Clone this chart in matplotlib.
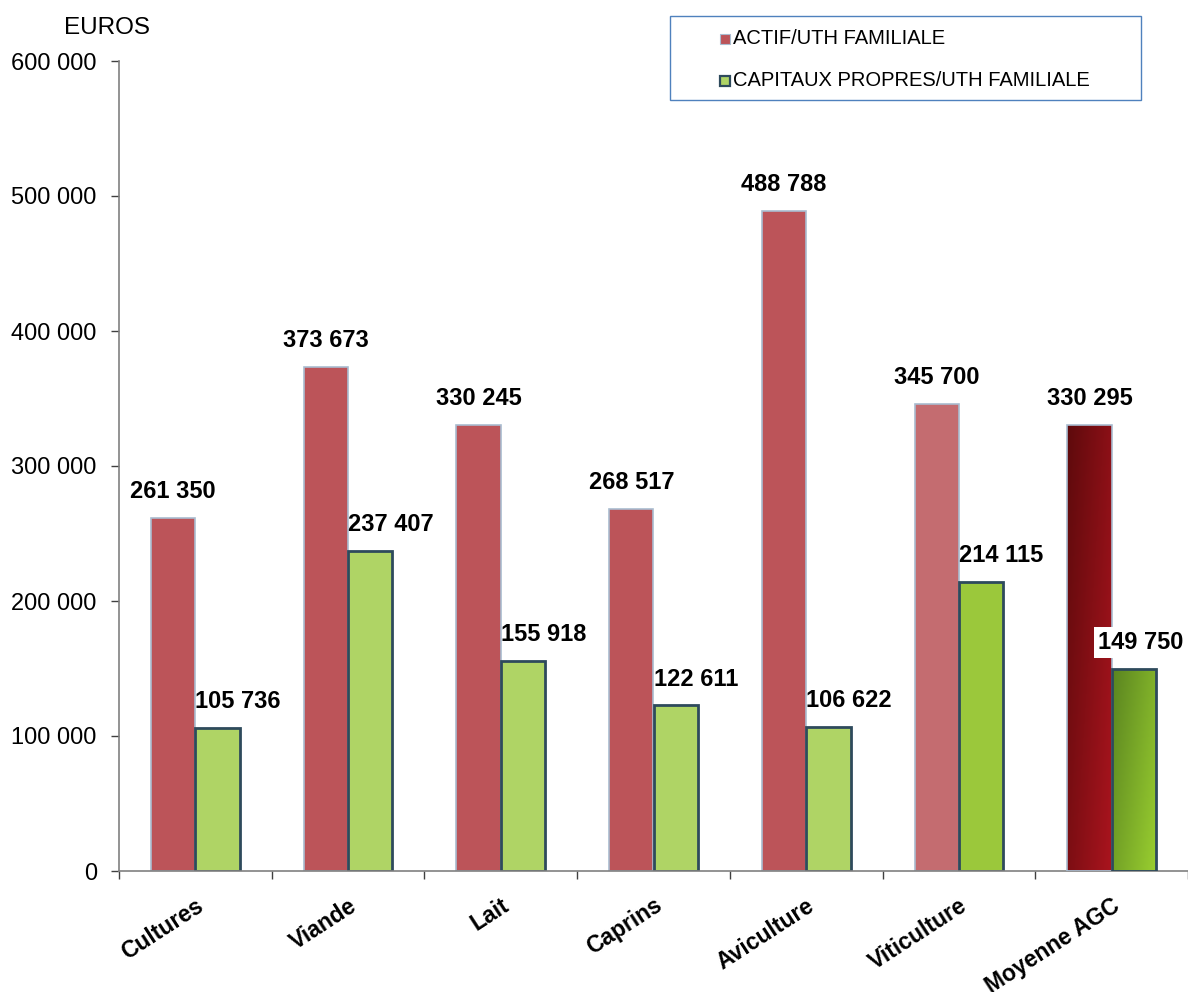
import numpy as np
import matplotlib.pyplot as plt
from matplotlib.patches import Rectangle
from matplotlib.colors import LinearSegmentedColormap

# data
categories = ['Cultures', 'Viande', 'Lait', 'Caprins', 'Aviculture', 'Viticulture', 'Moyenne AGC']
actif = [261350, 373673, 330245, 268517, 488788, 345700, 330295]
capitaux = [105736, 237407, 155918, 122611, 106622, 214115, 149750]
series_names = ['ACTIF/UTH FAMILIALE', 'CAPITAUX PROPRES/UTH FAMILIALE']

red_colors = ['#BC5459'] * 5 + ['#C46C70', '#8E0E14']
green_colors = ['#AFD465'] * 5 + ['#9BC83B', '#7BAA2A']

plt.rcParams['font.family'] = ['Liberation Sans', 'DejaVu Sans']

def fmt(v):
    return f'{v:,}'.replace(',', ' ')

fig = plt.figure(figsize=(11.88, 9.92), dpi=100)
ax = fig.add_axes([119 / 1188, 1 - 871 / 992, 1 - 119 / 1188, (871 - 61) / 992])

x = np.arange(len(categories))
w = 0.29
red_bars = ax.bar(x - w / 2, actif, w, color=red_colors, edgecolor='#A9BCD0', linewidth=1.2, zorder=2)
green_bars = ax.bar(x + w / 2, capitaux, w, color=green_colors, edgecolor='#2E4A5C', linewidth=2, zorder=2)


# gradient fill for the average bars (dark top-left -> light bottom-right)
def gradient(bar, c1, c2):
    cmap = LinearSegmentedColormap.from_list('g', [c1, c2])
    xx, yy = np.meshgrid(np.linspace(0, 1, 50), np.linspace(0, 1, 200))
    z = 0.6 * xx + 0.4 * yy
    bx, by = bar.get_x(), bar.get_y()
    im = ax.imshow(z, cmap=cmap, extent=[bx, bx + bar.get_width(), by, by + bar.get_height()],
                   origin='upper', aspect='auto', zorder=2.1)
    im.set_clip_path(bar)


gradient(red_bars[-1], '#5E0A0C', '#AA141E')
gradient(green_bars[-1], '#5A8420', '#9ACF30')
red_bars[-1].set_facecolor('none')
green_bars[-1].set_facecolor('none')
red_bars[-1].set_zorder(3)
green_bars[-1].set_zorder(3)

for i in range(len(categories)):
    ax.text(x[i] - w / 2, actif[i] + 11000, fmt(actif[i]), ha='center', va='bottom',
            fontsize=17, fontweight='bold', zorder=4)
    if i == len(categories) - 1:
        ax.text(x[i] - 0.09, capitaux[i] + 11000, fmt(capitaux[i]), ha='left', va='bottom',
                fontsize=17, fontweight='bold', zorder=4,
                bbox=dict(facecolor='white', edgecolor='none', pad=3))
    else:
        ax.text(x[i], capitaux[i] + 11000, fmt(capitaux[i]), ha='left', va='bottom',
                fontsize=17, fontweight='bold', zorder=4)

ax.set_xlim(-0.5, len(categories) - 0.5)
ax.set_ylim(0, 600000)
ax.set_yticks(np.arange(0, 600001, 100000))
ax.set_yticklabels([fmt(v) for v in range(0, 600001, 100000)], fontsize=17)
ax.set_xticks(np.arange(-0.5, len(categories), 1))
ax.set_xticklabels([])
for i, c in enumerate(categories):
    ax.text(x[i] + 0.0, -17000, c, rotation=33, rotation_mode='anchor', ha='right', va='top',
            fontsize=16.5, fontweight='bold')

for s in ['top', 'right']:
    ax.spines[s].set_visible(False)
for s in ['left', 'bottom']:
    ax.spines[s].set_color('#808080')
    ax.spines[s].set_linewidth(1.2)
ax.tick_params(axis='both', color='#404040', length=6, width=1)
ax.tick_params(axis='y', pad=10)

fig.text(107 / 1188, 1 - 28 / 992, 'EUROS', ha='center', va='center', fontsize=17.5)

# legend box
fig.patches.append(Rectangle((670 / 1188, 1 - 100 / 992), 471 / 1188, 84 / 992,
                             transform=fig.transFigure, facecolor='white',
                             edgecolor='#4F81BD', linewidth=1))
for k, (name, fc, ec, lw) in enumerate([(series_names[0], '#BC5459', '#A9BCD0', 0.8),
                                        (series_names[1], '#AFD465', '#2E4A5C', 1.6)]):
    yy = 1 - (39 + 42 * k) / 992
    fig.patches.append(Rectangle((720 / 1188, yy - 5 / 992), 10 / 1188, 10 / 992,
                                 transform=fig.transFigure, facecolor=fc, edgecolor=ec, linewidth=lw))
    fig.text(733 / 1188, yy, name, ha='left', va='center', fontsize=14.5)

fig.savefig('out.png', dpi=100)
